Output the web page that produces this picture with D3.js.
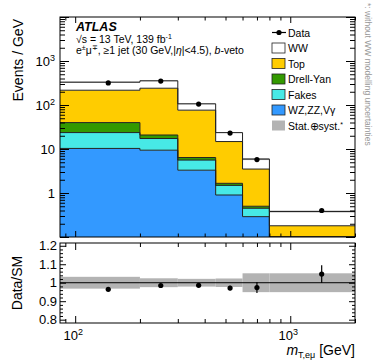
<!DOCTYPE html>
<html>
<head>
<meta charset="utf-8">
<script src="https://cdn.jsdelivr.net/npm/d3@7"></script>
<style>
  body { margin: 0; background: #fff; }
</style>
</head>
<body>
<div id="chart"></div>
<script>
// bins in m_T,emu [GeV]
const binEdges = [85, 200, 300, 450, 600, 800, 2000];
const binCenters = [142.5, 250, 375, 525, 700, 1400];

// events / GeV per process (not stacked)
const wzzzvg = [10.3, 9.4, 3.3, 0.9, 0.29, 0.04];
const fakes = [13.3, 7.9, 2.3, 0.59, 0.16, 0.02];
const drellYan = [16.2, 3.5, 0.8, 0.17, 0.05, 0.005];
const topQuark = [177, 220, 70, 13.1, 3.0, 0.115];
const ww = [113, 114, 30, 8.8, 2.4, 0.2];
const dataVals = [318, 350, 105, 23.0, 5.75, 0.40];

// ratio panel
const ratioVals = [0.964, 0.985, 0.986, 0.971, 0.974, 1.047];
const ratioErr = [0.004, 0.004, 0.006, 0.012, 0.03, 0.048];
const bandErr = [0.032, 0.024, 0.021, 0.023, 0.051, 0.051];

const legendLabels = ['Data', 'WW', 'Top', 'Drell-Yan', 'Fakes', 'WZ,ZZ,Vγ', 'Stat.⊕syst.'];
const xTickLabels = ['2', '3'];
const yTickExp = ['1', '10', '2', '3'];
const ratioTickLabels = ['0.8', '0.9', '1', '1.1', '1.2'];

const W = 374, H = 363;
const L = 60, R = 355, T = 17, B = 237, RT = 243, RB = 323;
const font = '"Liberation Sans", Arial, Helvetica, sans-serif';

const svg = d3.select('#chart').append('svg')
  .attr('width', W).attr('height', H)
  .style('font-family', font);

const x = d3.scaleLog().domain([85, 2000]).range([L, R]);
const y = d3.scaleLog().domain([0.1, 1e4]).range([B, T]).clamp(true);
const yr = d3.scaleLinear().domain([0.782, 1.215]).range([RB, RT]);

const colors = {
  wz: '#3399ff', fakes: '#47e9e6', dy: '#339900', top: '#ffcc00', ww: '#ffffff'
};

// ---------- main panel ----------
svg.append('clipPath').attr('id', 'clipMain')
  .append('rect').attr('x', L).attr('y', T).attr('width', R - L).attr('height', B - T);

const main = svg.append('g').attr('clip-path', 'url(#clipMain)');

const rows = binCenters.map((c, i) => ({
  wz: wzzzvg[i], fakes: fakes[i], dy: drellYan[i], top: topQuark[i], ww: ww[i]
}));
const keys = ['wz', 'fakes', 'dy', 'top', 'ww'];
const layers = d3.stack().keys(keys)(rows);

const stepPts = layer => layer.flatMap((d, i) => [
  { e: binEdges[i], lo: d[0], hi: d[1] },
  { e: binEdges[i + 1], lo: d[0], hi: d[1] }
]);

const area = d3.area()
  .x(d => x(d.e))
  .y0(d => y(Math.max(d.lo, 0.01)))
  .y1(d => y(d.hi));
const line = d3.line().x(d => x(d.e)).y(d => y(d.hi));

main.selectAll('.fill')
  .data(layers)
  .enter()
  .append('path')
  .attr('d', l => area(stepPts(l)))
  .attr('fill', l => colors[l.key]);

// uncertainty band on the total
const totals = layers[layers.length - 1].map(d => d[1]);
main.selectAll('.band')
  .data(totals)
  .enter()
  .append('rect')
  .attr('x', (d, i) => x(binEdges[i]))
  .attr('width', (d, i) => x(binEdges[i + 1]) - x(binEdges[i]))
  .attr('y', (d, i) => y(d * (1 + bandErr[i])))
  .attr('height', (d, i) => y(d * (1 - bandErr[i])) - y(d * (1 + bandErr[i])))
  .attr('fill', '#b3b3b3');

main.selectAll('.edge')
  .data(layers)
  .enter()
  .append('path')
  .attr('d', l => line(stepPts(l)))
  .attr('fill', 'none')
  .attr('stroke', '#222')
  .attr('stroke-width', 1);

main.selectAll('.dot')
  .data(dataVals)
  .enter()
  .append('circle')
  .attr('cx', (d, i) => x(binCenters[i]))
  .attr('cy', d => y(d))
  .attr('r', 2.6)
  .attr('fill', '#000');

// ---------- ratio panel ----------
const ratio = svg.append('g');

ratio.selectAll('.rband')
  .data(bandErr)
  .enter()
  .append('rect')
  .attr('x', (d, i) => x(binEdges[i]))
  .attr('width', (d, i) => x(binEdges[i + 1]) - x(binEdges[i]))
  .attr('y', d => yr(1 + d))
  .attr('height', d => yr(1 - d) - yr(1 + d))
  .attr('fill', '#b3b3b3');

ratio.append('line')
  .attr('x1', L).attr('x2', R)
  .attr('y1', yr(1)).attr('y2', yr(1))
  .attr('stroke', '#000').attr('stroke-width', 1);

ratio.selectAll('.rerr')
  .data(ratioVals)
  .enter()
  .append('line')
  .attr('x1', (d, i) => x(binCenters[i]))
  .attr('x2', (d, i) => x(binCenters[i]))
  .attr('y1', (d, i) => yr(d - ratioErr[i]))
  .attr('y2', (d, i) => yr(d + ratioErr[i]))
  .attr('stroke', '#000').attr('stroke-width', 1.2);

ratio.selectAll('.rdot')
  .data(ratioVals)
  .enter()
  .append('circle')
  .attr('cx', (d, i) => x(binCenters[i]))
  .attr('cy', d => yr(d))
  .attr('r', 2.6)
  .attr('fill', '#000');

// ---------- axes / ticks ----------
const noDomain = g => g.select('.domain').remove();
const tickStyle = g => g.selectAll('line').attr('stroke', '#000').attr('stroke-width', 1);

const yMajor = [0.1, 1, 10, 100, 1000, 10000];
const yMinor = d3.range(-1, 3 + 1).flatMap(e => d3.range(2, 10).map(k => k * Math.pow(10, e)));
const xMajor = [100, 1000];
const xMinor = [90, 200, 300, 400, 500, 600, 700, 800, 900, 2000];
const rMajor = [0.8, 0.9, 1.0, 1.1, 1.2];
const rMinor = d3.range(0.8, 1.21, 0.02).filter(v => Math.abs(v * 10 - Math.round(v * 10)) > 1e-6);

function ticks(axisFn, scale, vals, size, tx, ty) {
  svg.append('g')
    .attr('transform', `translate(${tx}, ${ty})`)
    .call(axisFn(scale).tickValues(vals).tickSize(-size).tickFormat(''))
    .call(noDomain)
    .call(tickStyle);
}

// main panel
ticks(d3.axisLeft, y, yMajor, 9, L, 0);
ticks(d3.axisLeft, y, yMinor, 5, L, 0);
ticks(d3.axisRight, y, yMajor, 9, R, 0);
ticks(d3.axisRight, y, yMinor, 5, R, 0);
ticks(d3.axisTop, x, xMajor, 6, 0, T);
ticks(d3.axisTop, x, xMinor, 3.5, 0, T);
ticks(d3.axisBottom, x, xMajor, 6, 0, B);
ticks(d3.axisBottom, x, xMinor, 3.5, 0, B);

// ratio panel
ticks(d3.axisLeft, yr, rMajor, 6, L, 0);
ticks(d3.axisLeft, yr, rMinor, 3, L, 0);
ticks(d3.axisRight, yr, rMajor, 6, R, 0);
ticks(d3.axisRight, yr, rMinor, 3, R, 0);
ticks(d3.axisTop, x, xMajor, 7, 0, RT);
ticks(d3.axisTop, x, xMinor, 4, 0, RT);
ticks(d3.axisBottom, x, xMajor, 7, 0, RB);
ticks(d3.axisBottom, x, xMinor, 4, 0, RB);

// frames
[[T, B], [RT, RB]].forEach(([t, b]) => {
  svg.append('rect')
    .attr('x', L).attr('y', t).attr('width', R - L).attr('height', b - t)
    .attr('fill', 'none').attr('stroke', '#000').attr('stroke-width', 1);
});

// ---------- tick labels ----------
const lbl = 13;
[1, 10, 100, 1000].forEach((v, i) => {
  const t = svg.append('text')
    .attr('x', L - 5).attr('y', y(v) + 4.5)
    .attr('text-anchor', 'end')
    .attr('font-size', lbl);
  if (i < 2) {
    t.text(yTickExp[i]);
  } else {
    t.append('tspan').text('10');
    t.append('tspan').attr('font-size', 9).attr('dy', -5).text(yTickExp[i]);
  }
});

rMajor.forEach((v, i) => {
  svg.append('text')
    .attr('x', L - 3).attr('y', yr(v) + 4.5)
    .attr('text-anchor', 'end')
    .attr('font-size', lbl)
    .text(ratioTickLabels[i]);
});

xMajor.forEach((v, i) => {
  const t = svg.append('text')
    .attr('x', x(v) - 2).attr('y', 340)
    .attr('text-anchor', 'middle')
    .attr('font-size', lbl);
  t.append('tspan').text('10');
  t.append('tspan').attr('font-size', 9).attr('dy', -5).text(xTickLabels[i]);
});

// ---------- axis titles ----------
svg.append('text')
  .attr('transform', 'translate(23, 19) rotate(-90)')
  .attr('text-anchor', 'end')
  .attr('font-size', 14)
  .text('Events / GeV');

svg.append('text')
  .attr('transform', 'translate(22, 283) rotate(-90)')
  .attr('text-anchor', 'middle')
  .attr('font-size', 14)
  .text('Data/SM');

const xt = svg.append('text')
  .attr('x', R).attr('y', 355)
  .attr('text-anchor', 'end')
  .attr('font-size', 14);
xt.append('tspan').attr('font-style', 'italic').text('m');
xt.append('tspan').attr('font-size', 9).attr('dy', 3).text('T,eμ');
xt.append('tspan').attr('dy', -3).text(' [GeV]');

// ---------- ATLAS labels ----------
svg.append('text')
  .attr('x', 76).attr('y', 31)
  .attr('font-size', 12.5)
  .attr('font-weight', 'bold')
  .attr('font-style', 'italic')
  .text('ATLAS');

const l2 = svg.append('text').attr('x', 76).attr('y', 43).attr('font-size', 10.5);
l2.append('tspan').text('√s = 13 TeV, 139 fb');
l2.append('tspan').attr('font-size', 7).attr('dy', -4).text('-1');

const l3 = svg.append('text').attr('x', 76).attr('y', 54).attr('font-size', 10.5);
l3.append('tspan').text('e');
l3.append('tspan').attr('font-size', 7).attr('dy', -4).text('±');
l3.append('tspan').attr('dy', 4).text('μ');
l3.append('tspan').attr('font-size', 7).attr('dy', -4).text('∓');
l3.append('tspan').attr('dy', 4).text(', ≥1 jet (30 GeV,|');
l3.append('tspan').attr('font-style', 'italic').text('η');
l3.append('tspan').text('|<4.5), ');
l3.append('tspan').attr('font-style', 'italic').text('b');
l3.append('tspan').text('-veto');

// ---------- legend ----------
const legColors = [null, colors.ww, colors.top, colors.dy, colors.fakes, colors.wz, '#b3b3b3'];
const legX = 272, legY0 = 32.5, legStep = 15.5;
legendLabels.forEach((name, i) => {
  const cy = legY0 + i * legStep;
  if (i === 0) {
    svg.append('line')
      .attr('x1', legX).attr('x2', legX + 14)
      .attr('y1', cy).attr('y2', cy)
      .attr('stroke', '#000').attr('stroke-width', 1.2);
    svg.append('circle').attr('cx', legX + 7).attr('cy', cy).attr('r', 2.6).attr('fill', '#000');
  } else {
    svg.append('rect')
      .attr('x', legX).attr('y', cy - 5).attr('width', 13).attr('height', 10)
      .attr('fill', legColors[i])
      .attr('stroke', i === 6 ? 'none' : '#222')
      .attr('stroke-width', 0.8);
  }
  const t = svg.append('text')
    .attr('x', legX + 16).attr('y', cy + 4)
    .attr('font-size', 10.5)
    .text(name);
  if (i === 6) t.append('tspan').attr('font-size', 7).attr('dy', -3).text('*');
});

// side note
svg.append('text')
  .attr('transform', 'translate(365, 3) rotate(90)')
  .attr('font-size', 8.5)
  .attr('fill', '#999')
  .text('*: without WW modelling uncertainties');
</script>
</body>
</html>
